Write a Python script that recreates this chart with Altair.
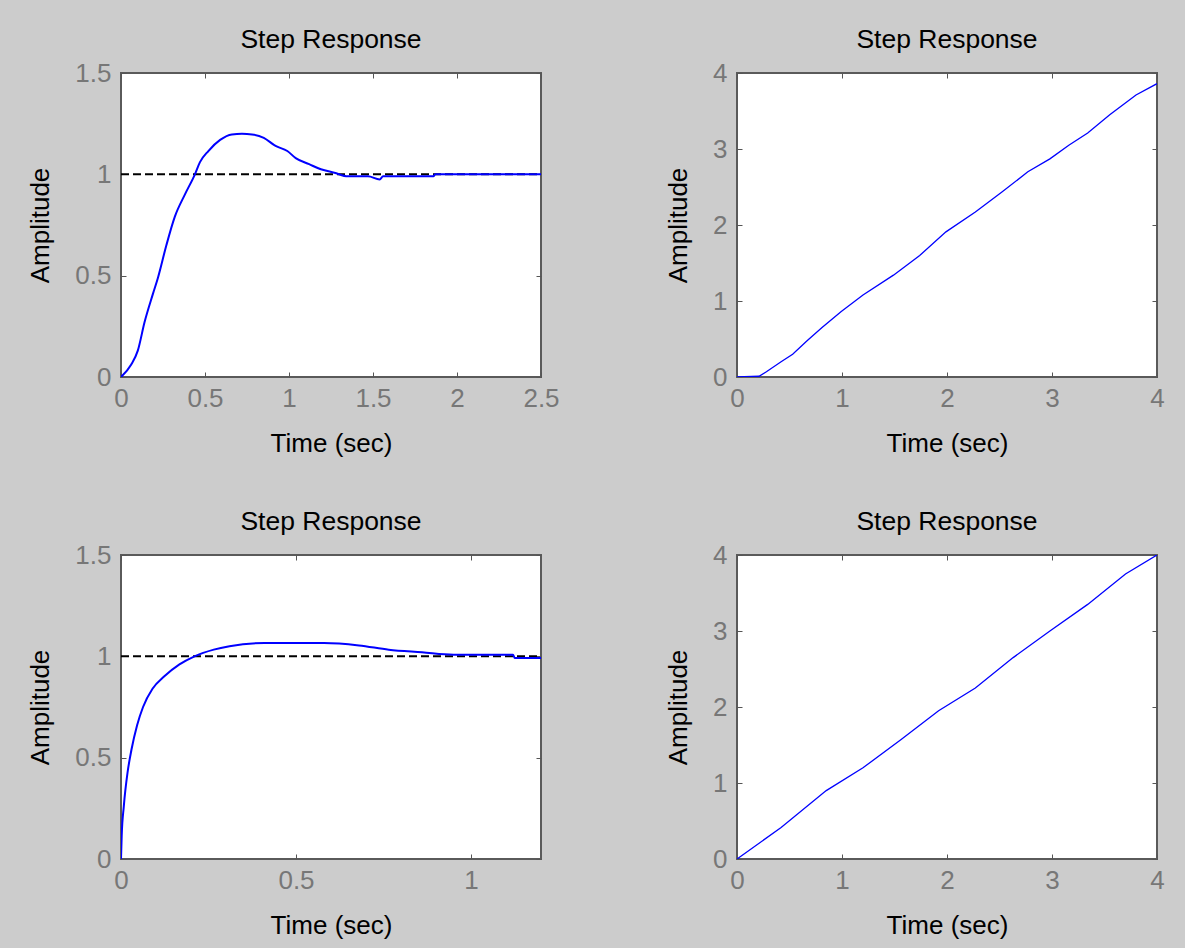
import altair as alt
import pandas as pd

# --- data ---
tl_t = [0, 0.06, 0.10, 0.14, 0.19, 0.22, 0.27, 0.32, 0.38, 0.44, 0.47, 0.52, 0.59, 0.66, 0.72,
        0.78, 0.85, 0.92, 0.99, 1.04, 1.12, 1.19, 1.27, 1.35, 1.47, 1.54, 1.56, 1.86, 1.87, 2.5]
tl_a = [0, 0.06, 0.13, 0.27, 0.41, 0.49, 0.65, 0.79, 0.90, 1.0, 1.06, 1.115, 1.17, 1.197, 1.20,
        1.197, 1.18, 1.14, 1.115, 1.08, 1.05, 1.025, 1.008, 0.99, 0.99, 0.975, 0.99, 0.99, 1.0, 1.0]

tr_t = [0, 0.21, 0.28, 0.42, 0.53, 0.67, 0.81, 0.99, 1.20, 1.49, 1.74, 1.99, 2.27, 2.52, 2.77,
        2.98, 3.16, 3.34, 3.55, 3.80, 4.0]
tr_a = [0, 0.01, 0.07, 0.2, 0.3, 0.48, 0.65, 0.86, 1.08, 1.34, 1.6, 1.91, 2.17, 2.43, 2.70,
        2.87, 3.05, 3.21, 3.45, 3.71, 3.86]

bl_t = [0, 0.002, 0.008, 0.019, 0.03, 0.046, 0.063, 0.09, 0.123, 0.167, 0.21, 0.265, 0.31, 0.41,
        0.58, 0.68, 0.765, 0.86, 0.95, 1.12, 1.125, 1.2]
bl_a = [0, 0.115, 0.26, 0.43, 0.54, 0.66, 0.75, 0.84, 0.90, 0.96, 1.0, 1.033, 1.05, 1.066,
        1.066, 1.054, 1.033, 1.02, 1.008, 1.008, 0.992, 0.992]

br_t = [0, 0.42, 0.85, 1.2, 1.56, 1.92, 2.27, 2.63, 2.98, 3.34, 3.70, 4.0]
br_a = [0, 0.415, 0.9, 1.2, 1.57, 1.95, 2.25, 2.65, 3.0, 3.35, 3.75, 4.0]

tl_xticks = [0, 0.5, 1, 1.5, 2, 2.5]
bl_xticks = [0, 0.5, 1]
r_xticks = [0, 1, 2, 3, 4]
l_yticks = [0, 0.5, 1, 1.5]
r_yticks = [0, 1, 2, 3, 4]

FONT = "Liberation Sans"
FS = 26
W, H = 420, 304


def panel(ts, amps, xmax, ymax, xticks, yticks, steady, lw, interp):
    df = pd.DataFrame({"t": ts, "a": amps})
    xs = alt.Scale(domain=[0, xmax], nice=False, zero=False)
    ys = alt.Scale(domain=[0, ymax], nice=False, zero=False)
    common = dict(offset=-5, tickSize=5, domain=False, grid=False, tickColor="#555555",
                  tickWidth=1, labelFlush=False, labelExpr="datum.value + ''")
    line = alt.Chart(df).mark_line(color="#0000ff", strokeWidth=lw, interpolate=interp, clip=True).encode(
        x=alt.X("t:Q", scale=xs, axis=alt.Axis(values=xticks, title="Time (sec)", orient="bottom",
                                               labelPadding=8, titlePadding=19, **common)),
        y=alt.Y("a:Q", scale=ys, axis=alt.Axis(values=yticks, title="Amplitude", orient="left",
                                               labelPadding=10, titlePadding=21, **common)),
    )
    ticks2 = alt.Chart(df).mark_line(strokeOpacity=0).encode(
        x=alt.X("t:Q", scale=xs, axis=alt.Axis(values=xticks, title=None, orient="top", labels=False,
                                               offset=-5, tickSize=5, domain=False, grid=False,
                                               tickColor="#555555", tickWidth=1)),
        y=alt.Y("a:Q", scale=ys, axis=alt.Axis(values=yticks, title=None, orient="right", labels=False,
                                               offset=-5, tickSize=5, domain=False, grid=False,
                                               tickColor="#555555", tickWidth=1)),
    )
    layers = []
    if steady:
        sdf = pd.DataFrame({"t": [0], "t2": [xmax], "a": [1]})
        dash = alt.Chart(sdf).mark_rule(color="black", strokeWidth=2, strokeDash=[8, 4]).encode(
            x=alt.X("t:Q", scale=xs, axis=None), x2="t2:Q",
            y=alt.Y("a:Q", scale=ys, axis=None),
        )
        layers.append(dash)
    layers += [line, ticks2]
    return alt.layer(*layers).resolve_axis(x="independent", y="independent").properties(
        width=W, height=H,
        title=alt.TitleParams("Step Response", font=FONT, fontSize=26.5, fontWeight="normal",
                              color="black", frame="group", baseline="alphabetic", offset=-14),
    )


p1 = panel(tl_t, tl_a, 2.5, 1.5, tl_xticks, l_yticks, True, 2, "monotone")
p2 = panel(tr_t, tr_a, 4, 4, r_xticks, r_yticks, False, 1.3, "linear")
p3 = panel(bl_t, bl_a, 1.2, 1.5, bl_xticks, l_yticks, True, 2, "monotone")
p4 = panel(br_t, br_a, 4, 4, r_xticks, r_yticks, False, 1.3, "linear")

chart = alt.concat(p1, p2, p3, p4, columns=2, spacing={"row": 178, "column": 196},
                   bounds="flush").configure(
    background="#cccccc",
    padding={"left": 26, "top": 25, "right": 19, "bottom": 9},
).configure_view(
    stroke="#5a5a5a", strokeWidth=2, fill="white"
).configure_axis(
    labelFont=FONT, labelFontSize=FS, labelColor="#777777",
    titleFont=FONT, titleFontSize=FS, titleFontWeight="normal", titleColor="black",
)

chart.save("out.html", embed_options={"renderer": "svg", "actions": False})
